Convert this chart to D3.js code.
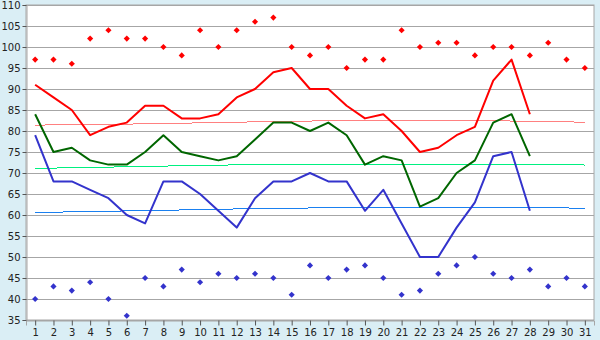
<!DOCTYPE html>
<html>
<head>
<meta charset="utf-8">
<script src="https://cdn.jsdelivr.net/npm/d3@7"></script>
<style>
  html, body { margin: 0; padding: 0; background: #daeef5; }
  svg { display: block; }
</style>
</head>
<body>
<svg id="plot"></svg>
<script>
const days = d3.range(1, 32);
const yTicks = d3.range(35, 111, 5);

// daily lines (days 1-28)
const redLine = [91, 88, 85, 79, 81, 82, 86, 86, 83, 83, 84, 88, 90, 94, 95, 90, 90, 86, 83, 84, 80, 75, 76, 79, 81, 92, 97, 84];
const greenLine = [84, 75, 76, 73, 72, 72, 75, 79, 75, 74, 73, 74, 78, 82, 82, 80, 82, 79, 72, 74, 73, 62, 64, 70, 73, 82, 84, 74];
const blueLine = [79, 68, 68, 66, 64, 60, 58, 68, 68, 65, 61, 57, 64, 68, 68, 70, 68, 68, 61, 66, 58, 50, 50, 57, 63, 74, 75, 61];

// markers (days 1-31)
const redPoints = [97, 97, 96, 102, 104, 102, 102, 100, 98, 104, 100, 104, 106, 107, 100, 98, 100, 95, 97, 97, 104, 100, 101, 101, 98, 100, 100, 98, 101, 97, 95];
const bluePoints = [40, 43, 42, 44, 40, 36, 45, 43, 47, 44, 46, 45, 46, 45, 41, 48, 45, 47, 48, 45, 41, 42, 46, 48, 50, 46, 45, 47, 43, 45, 43];

// trend curves, [day, value]
const redTrend = [[1, 81.4], [7, 81.7], [12, 82.1], [18, 82.5], [23, 82.6], [28, 82.3], [31, 82.1]];
const greenTrend = [[1, 71.1], [5, 71.4], [10, 71.8], [16, 72.1], [25, 72.1], [31, 71.9]];
const blueTrend = [[1, 60.6], [5, 60.9], [9, 61.2], [14, 61.6], [20, 61.8], [27, 61.8], [31, 61.6]];

const svg = d3.select("#plot");
const W = 600, H = 340;
const margin = { top: 5, left: 26, right: 6, bottom: 20 };
const width = W - margin.left - margin.right;
const height = H - margin.top - margin.bottom;

svg.attr("width", W).attr("height", H);

const xScale = d3.scalePoint().domain(days).range([0, width]).padding(0.5);
const yScale = d3.scaleLinear().domain([35, 110]).range([height, 0]);

const g = svg.append("g").attr("transform", `translate(${margin.left},${margin.top})`);

g.append("rect")
  .attr("width", width)
  .attr("height", height)
  .attr("fill", "#fff")
  .attr("stroke", "#a6a6a6");

// grid
g.append("g")
  .selectAll("line")
  .data(yTicks)
  .join("line")
  .attr("x1", 0)
  .attr("x2", width)
  .attr("y1", (d) => Math.round(yScale(d)) + 0.5)
  .attr("y2", (d) => Math.round(yScale(d)) + 0.5)
  .attr("stroke", "#a6a6a6");

const yAxis = d3.axisLeft(yScale).tickValues(yTicks).tickSize(4).tickPadding(2);
const xAxis = d3.axisBottom(xScale).tickSize(5).tickPadding(3);

const ya = g.append("g").attr("transform", "translate(0.5,0)").call(yAxis);
const xa = g.append("g").attr("transform", `translate(0,${height + 0.5})`).call(xAxis);

[ya, xa].forEach((a) => {
  a.select(".domain").attr("stroke", "#a6a6a6");
  a.selectAll(".tick line").attr("stroke", "#555");
  a.selectAll("text")
    .attr("fill", "#222")
    .style("font-family", "'DejaVu Sans', Verdana, sans-serif")
    .style("font-size", "10px");
});

// trend curves
const trendLine = d3.line()
  .x((d) => xScale(d[0]))
  .y((d) => yScale(d[1]))
  .curve(d3.curveMonotoneX);

[[redTrend, "#ff8080"], [greenTrend, "#00f080"], [blueTrend, "#1a80f0"]].forEach(([data, color]) => {
  g.append("path")
    .datum(data)
    .attr("d", trendLine)
    .attr("fill", "none")
    .attr("stroke", color)
    .attr("stroke-width", 1)
    .attr("shape-rendering", "crispEdges");
});

// daily lines
const dayLine = d3.line()
  .x((d, i) => xScale(days[i]))
  .y((d) => yScale(d));

[[redLine, "#ff0000"], [greenLine, "#006600"], [blueLine, "#3333cc"]].forEach(([data, color]) => {
  g.append("path")
    .datum(data)
    .attr("d", dayLine)
    .attr("fill", "none")
    .attr("stroke", color)
    .attr("stroke-width", 2)
    .attr("stroke-linejoin", "round");
});

// markers
const diamond = d3.symbol().type(d3.symbolDiamond2).size(24);

[[redPoints, "#ff0000"], [bluePoints, "#3333cc"]].forEach(([data, color]) => {
  g.append("g")
    .selectAll("path")
    .data(data)
    .join("path")
    .attr("d", diamond)
    .attr("transform", (d, i) => `translate(${xScale(days[i])},${yScale(d)})`)
    .attr("fill", color);
});
</script>
</body>
</html>
